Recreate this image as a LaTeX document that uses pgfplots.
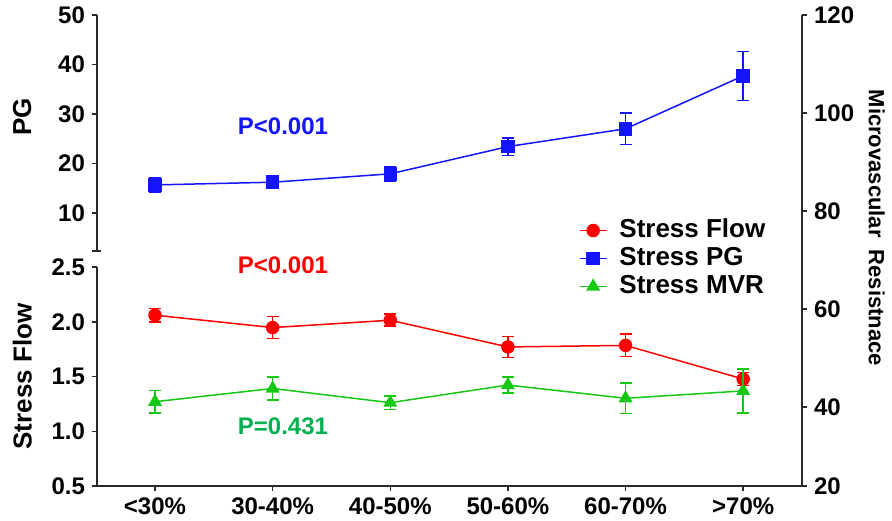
\documentclass[border=0pt]{standalone}
\usepackage{fontspec}
\setmainfont{Liberation Sans}
\usepackage{pgfplots}
\pgfplotsset{compat=1.18}
\definecolor{cRed}{RGB}{255,0,0}
\definecolor{cBlue}{RGB}{20,20,255}
\definecolor{cGreen}{RGB}{20,200,20}
\definecolor{tGreen}{RGB}{0,176,80}
\definecolor{axc}{RGB}{40,40,40}
\begin{document}
\begin{tikzpicture}
\path[use as bounding box] (0,0) rectangle (446pt,260pt);
\pgfplotsset{
 common/.style={scale only axis, width=352.5pt, xmin=-0.493, xmax=5.5, anchor=south west,
   axis line style={-,line width=0.75pt, axc}, tick style={line width=0.75pt, axc},
   major tick length=2.5pt, tick align=outside,
   /pgf/number format/assume math mode=true,
   tick label style={font=\bfseries\fontsize{12}{14}\selectfont},
   clip=false, every axis plot/.append style={line width=0.75pt}},
 eb/.style={error bars/.cd, y dir=both, y explicit, error bar style={line width=0.75pt, solid},
   error mark options={rotate=90, mark size=3pt, line width=0.75pt, solid}},
}
% ---------- PG (top left) ----------
\begin{axis}[common, at={(48.5pt,134.5pt)}, height=118pt, ymin=2.3, ymax=50,
  axis x line=none, axis y line*=left, ytick={10,20,30,40,50},
  extra y ticks={2.3}, extra y tick labels={}, extra y tick style={tick align=center, major tick length=4.5pt},
  ylabel={\bfseries PG},
  ylabel style={font=\fontsize{13}{13}\selectfont, at={(axis description cs:-0.106,0.568)}, anchor=center}]
\addplot[cBlue, mark=square*, mark size=3pt, eb] coordinates {
 (0,15.66) +- (0,1.4)
 (1,16.2) +- (0,1.2)
 (2,17.9) +- (0,1.45)
 (3,23.4) +- (0,1.75)
 (4,27.0) +- (0,3.2)
 (5,37.7) +- (0,4.95)
};
\node[text=cBlue, font=\bfseries\fontsize{12}{12}\selectfont] at (axis cs:1.088,27.6) {P<0.001};
\end{axis}
% ---------- Stress Flow (bottom left) ----------
\begin{axis}[common, at={(48.5pt,17pt)}, height=109.5pt, ymin=0.5, ymax=2.5,
  axis x line*=bottom, axis y line*=left,
  xtick={0,1,2,3,4,5}, xticklabels={<30\%,30-40\%,40-50\%,50-60\%,60-70\%,>70\%},
  ytick={0.5,1,1.5,2,2.5},
  yticklabel style={/pgf/number format/.cd, fixed, fixed zerofill, precision=1},
  ylabel={\bfseries Stress Flow},
  ylabel style={font=\fontsize{13}{13}\selectfont, at={(axis description cs:-0.106,0.5)}, anchor=center}]
\addplot[cRed, mark=*, mark size=3pt, eb] coordinates {
 (0,2.06) +- (0,0.063)
 (1,1.947) +- (0,0.10)
 (2,2.014) +- (0,0.055)
 (3,1.77) +- (0,0.095)
 (4,1.784) +- (0,0.103)
 (5,1.477) +- (0,0.06)
};
\node[text=cRed, font=\bfseries\fontsize{12}{12}\selectfont] at (axis cs:1.088,2.52) {P<0.001};
\node[text=tGreen, font=\bfseries\fontsize{12}{12}\selectfont] at (axis cs:1.088,1.044) {P=0.431};
\end{axis}
% ---------- MVR (right) ----------
\begin{axis}[common, at={(48.5pt,17pt)}, height=235.5pt, ymin=23.9, ymax=120,
  axis x line=none, axis y line*=right,
  ytick={23.9,40,60,80,100,120}, yticklabels={20,40,60,80,100,120},
  ylabel={\bfseries Microvascular\ \ Resistnace},
  ylabel style={font=\fontsize{11}{11}\selectfont, at={(axis description cs:1.106,0.548)}, anchor=center, rotate=180},
  legend cell align=left,
  legend image code/.code={\draw[mark repeat=2, mark phase=2] plot coordinates {(0pt,0pt) (6.75pt,0pt) (13.5pt,0pt)};},
  legend style={at={(rel axis cs:0.683,0.573)}, anchor=north west, draw=none, fill=none,
    font=\bfseries\fontsize{13}{13}\selectfont, row sep=0pt, inner sep=0pt,
    nodes={inner sep=1pt, text height=9.5pt, text depth=2.5pt},
    /tikz/every odd column/.append style={column sep=5pt}}]
\addlegendimage{cRed, mark=*, mark size=3pt, line width=0.75pt}
\addlegendimage{cBlue, mark=square*, mark size=3pt, line width=0.75pt}
\addplot[cGreen, mark=triangle*, mark size=3.3pt, eb] coordinates {
 (0,41.1) +- (0,2.3)
 (1,43.8) +- (0,2.35)
 (2,40.9) +- (0,1.35)
 (3,44.5) +- (0,1.6)
 (4,41.8) +- (0,3.1)
 (5,43.3) +- (0,4.5)
};
\legend{Stress Flow, Stress PG, Stress MVR}
\end{axis}
\end{tikzpicture}
\end{document}
